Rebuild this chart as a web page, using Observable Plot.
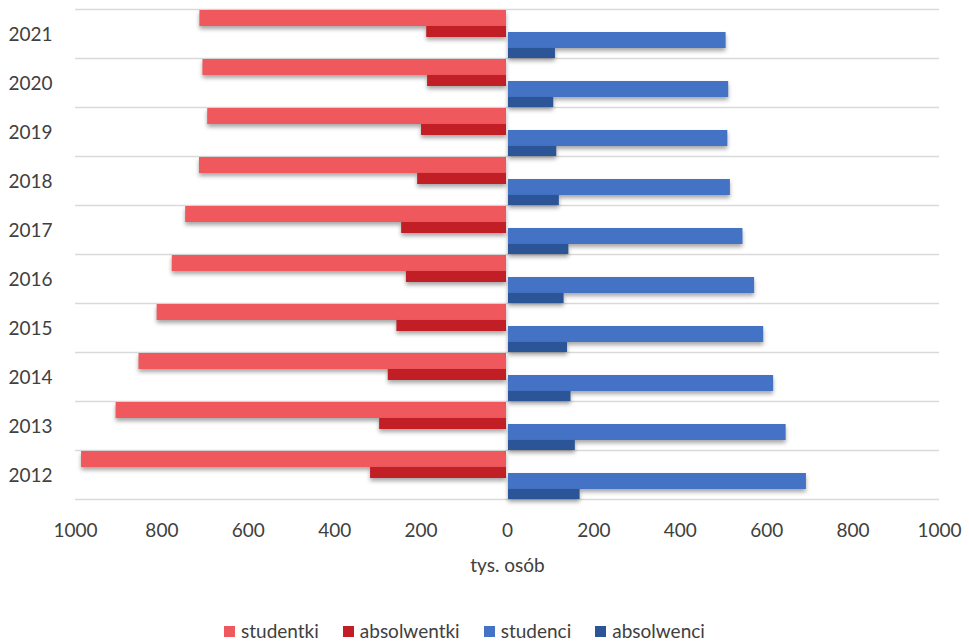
<!DOCTYPE html>
<html>
<head>
<meta charset="utf-8">
<script src="https://cdn.jsdelivr.net/npm/d3@7"></script>
<script src="https://cdn.jsdelivr.net/npm/@observablehq/plot@0.6"></script>
<style>
  body { margin: 0; background: #fff; overflow: hidden; }
  #chart svg g[aria-label="bar"] { filter: drop-shadow(0px 3px 2px rgba(0,0,0,0.35)); }
  .lg-swatches { font-family: Lato, sans-serif !important; font-size: 19px !important; color: #404040 !important;
    justify-content: flex-start !important; padding-left: 224px; margin: 20px 0 0 0 !important;
    min-height: 0 !important; height: 22px; line-height: 22px; }
  .lg-swatch { margin-right: 24px !important; }
  .lg-swatch > svg { margin-right: 6px !important; }
</style>
</head>
<body>
<div id="chart"></div>
<script>
const years = ["2012", "2013", "2014", "2015", "2016", "2017", "2018", "2019", "2020", "2021"];
const studentki   = [986, 906, 853, 811, 776, 745, 713, 694, 705, 712];
const absolwentki = [317, 296, 276, 256, 234, 245, 208, 199, 185, 187];
const studenci    = [692, 645, 616, 593, 572, 545, 516, 510, 512, 506];
const absolwenci  = [168, 157, 147, 139, 131, 142, 120, 114, 107, 111];
const seriesNames  = ["studentki", "absolwentki", "studenci", "absolwenci"];
const seriesColors = ["#EF585C", "#C11E25", "#4472C4", "#2C5597"];
const xTicks = [-1000, -800, -600, -400, -200, 0, 200, 400, 600, 800, 1000];
const xLabel = "tys. osób";

const rows = years.map((year, i) => ({
  year,
  studentki: studentki[i],
  absolwentki: absolwentki[i],
  studenci: studenci[i],
  absolwenci: absolwenci[i]
}));
const yDomain = years.slice().reverse();
const grid = "#D9D9D9";

const plot = Plot.plot({
  width: 969,
  height: 600,
  marginLeft: 75,
  marginRight: 30,
  marginTop: 9,
  marginBottom: 101,
  style: { fontFamily: "Lato, sans-serif", fontSize: "19px", color: "#404040", background: "#fff" },
  x: { domain: [-1000, 1000] },
  y: { domain: yDomain, padding: 0 },
  marks: [
    Plot.ruleY(yDomain, { y: d => d, dy: -24.5, stroke: grid, strokeWidth: 1.3 }),
    Plot.ruleY([yDomain[yDomain.length - 1]], { y: d => d, dy: 24.5, stroke: grid, strokeWidth: 1.3 }),
    Plot.barX(rows, { y: "year", x: d => -d.studentki, fill: seriesColors[0], insetTop: 1, insetBottom: 32, insetRight: 1 }),
    Plot.barX(rows, { y: "year", x: d => -d.absolwentki, fill: seriesColors[1], insetTop: 17, insetBottom: 21, insetRight: 1 }),
    Plot.barX(rows, { y: "year", x: "studenci", fill: seriesColors[2], insetTop: 23, insetBottom: 10, insetLeft: 1 }),
    Plot.barX(rows, { y: "year", x: "absolwenci", fill: seriesColors[3], insetTop: 39, insetBottom: 0, insetLeft: 1 }),
    Plot.axisY({ tickSize: 0, tickPadding: 23, label: null, dy: 1 }),
    Plot.axisX({ ticks: xTicks, tickFormat: d => String(Math.abs(d)), tickSize: 0, tickPadding: 24,
      label: xLabel, labelAnchor: "center", labelArrow: "none", labelOffset: 72 })
  ]
});
document.getElementById("chart").appendChild(plot);

const legend = Plot.legend({
  color: { type: "ordinal", domain: seriesNames, range: seriesColors },
  legend: "swatches",
  swatchSize: 11,
  className: "lg"
});
document.getElementById("chart").appendChild(legend);
</script>
</body>
</html>
